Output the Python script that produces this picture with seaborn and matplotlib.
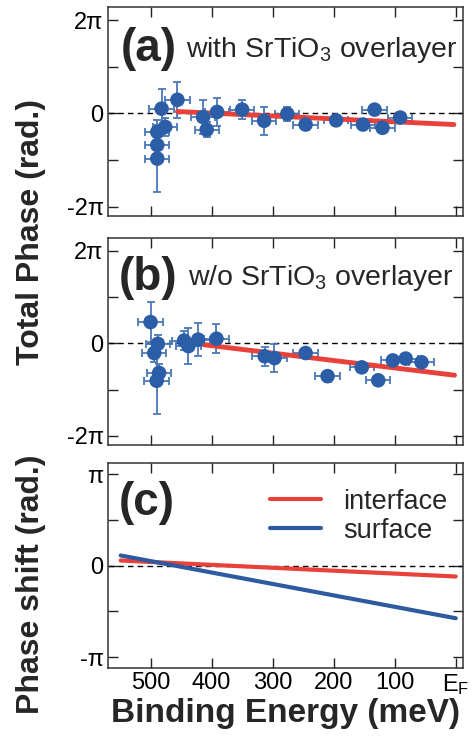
import numpy as np
import pandas as pd
import seaborn as sns
import matplotlib.pyplot as plt

# data (binding energy in meV, phase in units of pi)
e_a = [489, 489, 489, 476, 482, 456, 414, 408, 391, 350, 314, 276, 246, 196, 152, 133, 120, 91]
ph_a = [-0.97, -0.68, -0.40, -0.29, 0.10, 0.29, -0.08, -0.35, 0.03, 0.08, -0.16, -0.01, -0.24, -0.15, -0.24, 0.08, -0.31, -0.09]
yerr_a = [0.72, 0.25, 0.25, 0.2, 0.43, 0.38, 0.36, 0.16, 0.30, 0.2, 0.3, 0.15, 0.12, 0.1, 0.1, 0.1, 0.1, 0.1]

e_b = [500, 488, 494, 486, 490, 445, 438, 422, 392, 313, 297, 246, 210, 154, 127, 103, 82, 56]
ph_b = [0.46, -0.01, -0.21, -0.64, -0.81, 0.06, -0.06, 0.08, 0.10, -0.28, -0.32, -0.21, -0.71, -0.52, -0.80, -0.37, -0.33, -0.41]
yerr_b = [0.43, 0.2, 0.2, 0.2, 0.73, 0.2, 0.39, 0.36, 0.32, 0.2, 0.31, 0.1, 0.12, 0.1, 0.1, 0.1, 0.1, 0.1]
xerr = 20

fit_a_e, fit_a_ph = [456, 3], [0.04, -0.24]
fit_b_e, fit_b_ph = [413, 2], [-0.03, -0.69]

shift_e = [549, 0]
interface = [0.055, -0.12]
surface = [0.11, -0.576]

sns.set_style("ticks")
plt.rcParams['font.family'] = ['Liberation Sans', 'DejaVu Sans']
plt.rcParams['mathtext.default'] = 'regular'

dot_c = '#2c5ea8'
err_c = '#4a78b8'
red = '#e8413a'
blue = '#2f5aa0'

fig = plt.figure(figsize=(4.73, 7.43), dpi=100)
ax_a = fig.add_axes([0.228, 0.7093, 0.751, 0.2813])
ax_b = fig.add_axes([0.228, 0.4011, 0.751, 0.2786])
ax_c = fig.add_axes([0.228, 0.1009, 0.751, 0.2759])


def style(ax, lim, ticks, labels):
    ax.set_xlim(570, -12)
    ax.set_ylim(*lim)
    ax.set_xticks([500, 400, 300, 200, 100, 0])
    ax.set_yticks(ticks)
    ax.set_yticklabels(labels)
    ax.axhline(0, color='black', ls=(0, (4, 3)), lw=1, zorder=1)
    ax.tick_params(direction='in', length=7, width=1, top=True, right=True,
                   labelsize=17, colors='#222222', labelcolor='black', pad=3)
    for s in ax.spines.values():
        s.set_linewidth(1.1)
        s.set_color('#333333')
    ax.set_xlabel('')
    ax.set_ylabel('')


def points(ax, e, ph, yerr):
    ax.errorbar(e, ph, xerr=xerr, yerr=yerr, fmt='none', ecolor=err_c,
                elinewidth=1.3, capsize=2.8, capthick=1.3, zorder=2)
    sns.scatterplot(x=e, y=ph, ax=ax, s=110, color=dot_c, edgecolor='none',
                    zorder=4, legend=False)


# (a)
sns.lineplot(x=fit_a_e, y=fit_a_ph, ax=ax_a, color=red, lw=3.5, zorder=3)
points(ax_a, e_a, ph_a, yerr_a)
style(ax_a, (-2.2, 2.28), [-2, -1, 0, 1, 2], ['-2π', '', '0', '', '2π'])
ax_a.set_xticklabels([])
ax_a.text(0.035, 0.74, '(a)', transform=ax_a.transAxes, fontsize=33, fontweight='bold')
ax_a.text(0.22, 0.761, 'with SrTiO$_3$ overlayer', transform=ax_a.transAxes, fontsize=20.5)

# (b)
sns.lineplot(x=fit_b_e, y=fit_b_ph, ax=ax_b, color=red, lw=3.5, zorder=3)
points(ax_b, e_b, ph_b, yerr_b)
style(ax_b, (-2.2, 2.28), [-2, -1, 0, 1, 2], ['-2π', '', '0', '', '2π'])
ax_b.set_xticklabels([])
ax_b.text(0.03, 0.749, '(b)', transform=ax_b.transAxes, fontsize=33, fontweight='bold')
ax_b.text(0.226, 0.773, 'w/o SrTiO$_3$ overlayer', transform=ax_b.transAxes, fontsize=20.5)

# (c)
shift = pd.DataFrame({
    'E': shift_e * 2,
    'phase': interface + surface,
    'layer': ['interface'] * 2 + ['surface'] * 2,
})
sns.lineplot(data=shift, x='E', y='phase', hue='layer', palette=[red, blue],
             ax=ax_c, lw=3, zorder=3)
style(ax_c, (-1.12, 1.12), [-1, -0.5, 0, 0.5, 1], ['-π', '', '0', '', 'π'])
ax_c.set_xticklabels(['500', '400', '300', '200', '100', 'E$_F$'])
ax_c.text(0.03, 0.746, '(c)', transform=ax_c.transAxes, fontsize=33, fontweight='bold')
ax_c.legend(loc='upper right', bbox_to_anchor=(0.955, 0.875), frameon=False,
            fontsize=19.5, handlelength=1.9, labelspacing=0.12, borderpad=0,
            borderaxespad=0, handletextpad=0.8)
ax_c.set_xlabel('Binding Energy (meV)', fontsize=24, fontweight='bold', labelpad=1)

fig.text(0.065, 0.688, 'Total Phase (rad.)', rotation=90, ha='center', va='center',
         fontsize=23, fontweight='bold')
fig.text(0.065, 0.213, 'Phase shift (rad.)', rotation=90, ha='center', va='center',
         fontsize=23, fontweight='bold')

fig.savefig('out.png', dpi=100)
